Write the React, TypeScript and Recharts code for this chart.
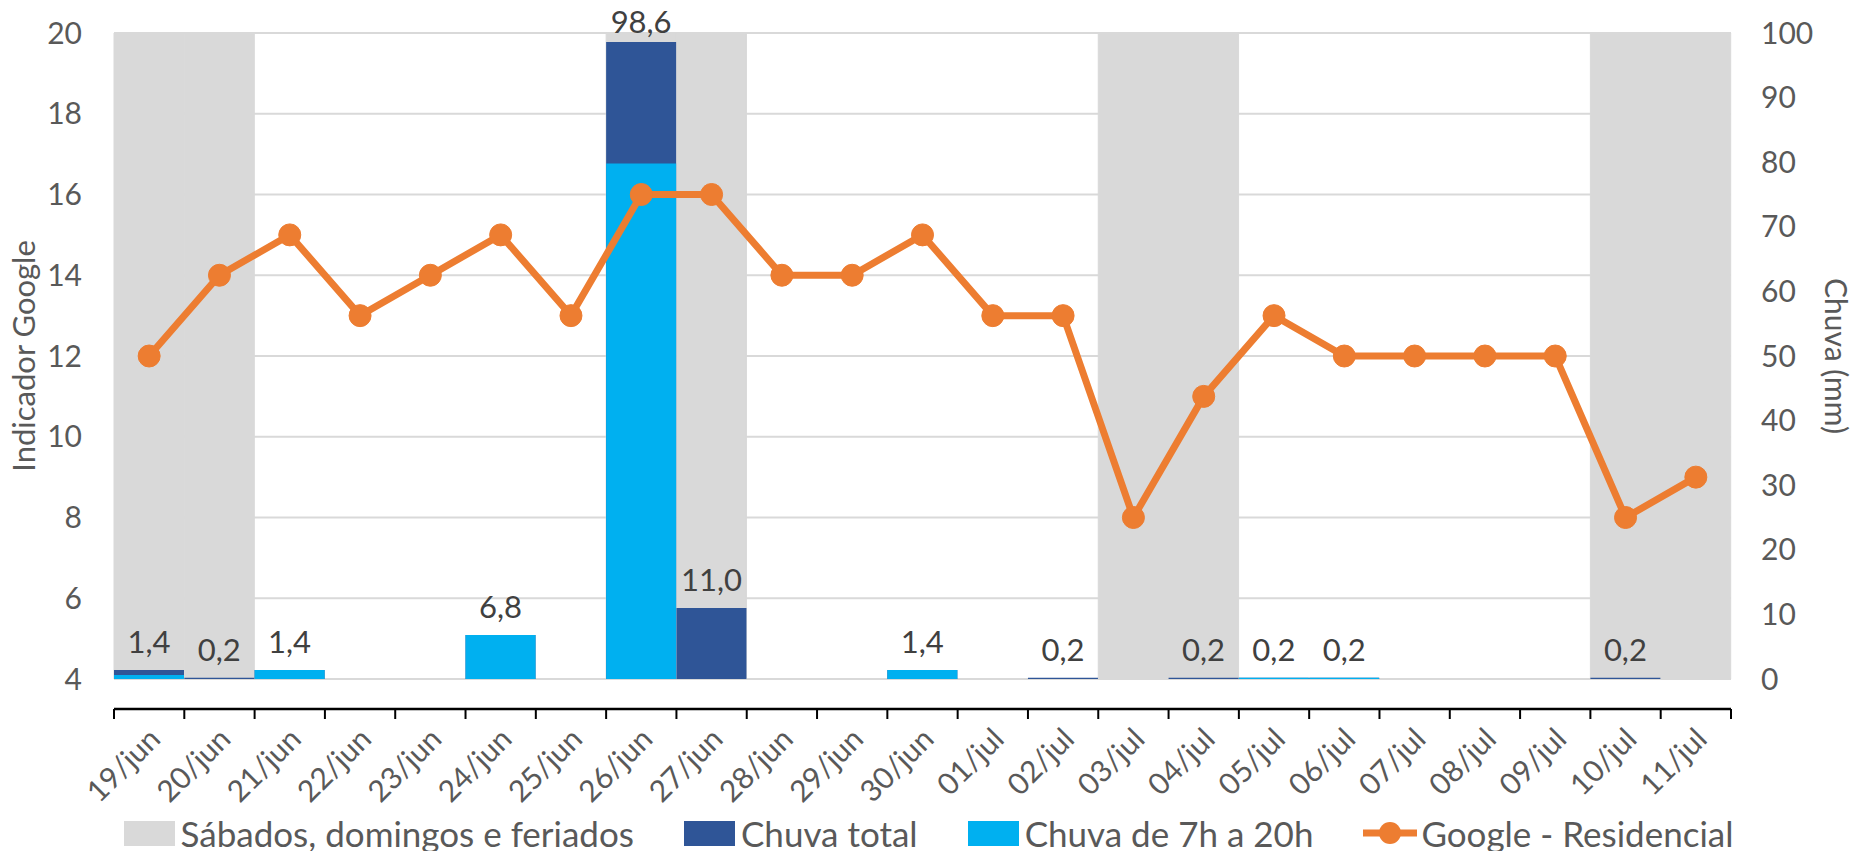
import React from "react";
import {
  ComposedChart,
  Bar,
  Line,
  XAxis,
  YAxis,
  CartesianGrid,
  Legend,
  LabelList,
} from "recharts";

const days = [
  "19/jun", "20/jun", "21/jun", "22/jun", "23/jun", "24/jun", "25/jun", "26/jun",
  "27/jun", "28/jun", "29/jun", "30/jun", "01/jul", "02/jul", "03/jul", "04/jul",
  "05/jul", "06/jul", "07/jul", "08/jul", "09/jul", "10/jul", "11/jul",
];

// dias em cinza (fim de semana / feriado)
const offDays = ["19/jun", "20/jun", "26/jun", "27/jun", "03/jul", "04/jul", "10/jul", "11/jul"];

const googleResidencial = [12, 14, 15, 13, 14, 15, 13, 16, 16, 14, 14, 15, 13, 13, 8, 11, 13, 12, 12, 12, 12, 8, 9];
const chuvaTotal = [1.4, 0.2, 1.4, 0, 0, 6.8, 0, 98.6, 11.0, 0, 0, 1.4, 0, 0.2, 0, 0.2, 0.2, 0.2, 0, 0, 0, 0.2, 0];
const chuva7a20 = [0.6, 0, 1.4, 0, 0, 6.8, 0, 79.8, 0, 0, 0, 1.4, 0, 0, 0, 0, 0.2, 0.2, 0, 0, 0, 0, 0];

const leftTicks = [4, 6, 8, 10, 12, 14, 16, 18, 20];
const rightTicks = [0, 10, 20, 30, 40, 50, 60, 70, 80, 90, 100];

const legendOrder = ["Sábados, domingos e feriados", "Chuva total", "Chuva de 7h a 20h", "Google - Residencial"];

const data = days.map((day, i) => ({
  day,
  fim: offDays.includes(day) ? 100 : null,
  total: chuvaTotal[i],
  dia: chuva7a20[i],
  google: googleResidencial[i],
}));

const W = 1857;
const H = 851;
const LEFT_W = 114;
const RIGHT_W = 126;
const LEGEND_H = 36;
const XAXIS_H = 136;
const TOP = 33;
const BAND = (W - LEFT_W - RIGHT_W) / days.length;

const TXT = "#595959";
const FONT = "Lato, 'Open Sans', sans-serif";

function DayTick(props: any) {
  const { x, y, payload } = props;
  const half = BAND / 2;
  const last = payload.index === days.length - 1;
  const tx = x + 13;
  const ty = y + 32;
  return (
    <g>
      <line x1={x - half} x2={x - half} y1={y} y2={y + 10} stroke="#000" strokeWidth={2} />
      {last && <line x1={x + half} x2={x + half} y1={y} y2={y + 10} stroke="#000" strokeWidth={2} />}
      <text
        x={tx}
        y={ty}
        transform={`rotate(-45, ${tx}, ${ty})`}
        textAnchor="end"
        fill={TXT}
        fontSize={30}
      >
        {payload.value}
      </text>
    </g>
  );
}

function RainLabel(props: any) {
  const { x, y, width, value } = props;
  if (!value || value <= 0) return null;
  const ty = Math.max(y - 17, TOP);
  return (
    <text x={x + width / 2} y={ty} textAnchor="middle" fill="#404040" fontSize={31}>
      {value.toFixed(1).replace(".", ",")}
    </text>
  );
}

function LegendContent(props: any) {
  const items = [...(props.payload || [])].sort(
    (a: any, b: any) => legendOrder.indexOf(a.value) - legendOrder.indexOf(b.value)
  );
  return (
    <div
      style={{
        height: LEGEND_H,
        display: "flex",
        justifyContent: "center",
        alignItems: "center",
        fontSize: 35,
        color: TXT,
        fontFamily: FONT,
        whiteSpace: "nowrap",
      }}
    >
      {items.map((p: any, i: number) => (
        <div key={i} style={{ display: "flex", alignItems: "center", marginRight: i < items.length - 1 ? 50 : 0 }}>
          {p.type === "line" ? (
            <svg width={54} height={26} style={{ marginRight: 4 }}>
              <line x1={0} x2={54} y1={13} y2={13} stroke={p.color} strokeWidth={7} />
              <circle cx={27} cy={13} r={11} fill={p.color} />
            </svg>
          ) : (
            <div style={{ width: 51, height: 25, background: p.color, marginRight: 6 }} />
          )}
          <span>{p.value}</span>
        </div>
      ))}
    </div>
  );
}

export default function App() {
  return (
    <div style={{ width: W, height: H, fontFamily: FONT, background: "#fff" }}>
      <style>{"body{margin:0}"}</style>
      <ComposedChart
        width={W}
        height={H}
        data={data}
        margin={{ top: TOP, right: 0, bottom: 0, left: 0 }}
        barCategoryGap={0}
        barGap={0}
      >
        <CartesianGrid xAxisId="main" yAxisId="l" vertical={false} stroke="#D9D9D9" strokeWidth={2} />
        <XAxis
          xAxisId="main"
          dataKey="day"
          height={XAXIS_H}
          interval={0}
          tickSize={0}
          tickMargin={0}
          tickLine={false}
          axisLine={{ stroke: "#000", strokeWidth: 2.5 }}
          tick={<DayTick />}
        />
        <XAxis xAxisId="t" dataKey="day" hide />
        <XAxis xAxisId="d" dataKey="day" hide />
        <YAxis
          yAxisId="l"
          domain={[4, 20]}
          ticks={leftTicks}
          width={LEFT_W}
          axisLine={false}
          tickLine={false}
          tickSize={0}
          tickMargin={32}
          tick={{ fill: TXT, fontSize: 30 }}
          label={{
            value: "Indicador Google",
            angle: -90,
            position: "insideLeft",
            offset: 24,
            fill: TXT,
            fontSize: 31,
            style: { textAnchor: "middle" },
          }}
        />
        <YAxis
          yAxisId="r"
          orientation="right"
          domain={[0, 100]}
          ticks={rightTicks}
          width={RIGHT_W}
          axisLine={false}
          tickLine={false}
          tickSize={0}
          tickMargin={30}
          tick={{ fill: TXT, fontSize: 30 }}
          label={{
            value: "Chuva (mm)",
            angle: 90,
            position: "insideRight",
            offset: 21,
            fill: TXT,
            fontSize: 30,
            style: { textAnchor: "middle" },
          }}
        />
        <Bar
          xAxisId="main"
          yAxisId="r"
          dataKey="fim"
          name="Sábados, domingos e feriados"
          fill="#D9D9D9"
          stroke="#D9D9D9"
          strokeWidth={1}
          isAnimationActive={false}
        />
        <Bar
          xAxisId="t"
          yAxisId="r"
          dataKey="total"
          name="Chuva total"
          fill="#2F5597"
          isAnimationActive={false}
        >
          <LabelList dataKey="total" content={<RainLabel />} />
        </Bar>
        <Bar
          xAxisId="d"
          yAxisId="r"
          dataKey="dia"
          name="Chuva de 7h a 20h"
          fill="#00B0F0"
          isAnimationActive={false}
        />
        <Line
          xAxisId="main"
          yAxisId="l"
          type="linear"
          dataKey="google"
          name="Google - Residencial"
          stroke="#ED7D31"
          strokeWidth={7}
          dot={{ r: 11, fill: "#ED7D31", stroke: "#ED7D31", strokeWidth: 1 }}
          activeDot={false}
          isAnimationActive={false}
        />
        <Legend verticalAlign="bottom" align="center" height={LEGEND_H} content={<LegendContent />} />
      </ComposedChart>
    </div>
  );
}
